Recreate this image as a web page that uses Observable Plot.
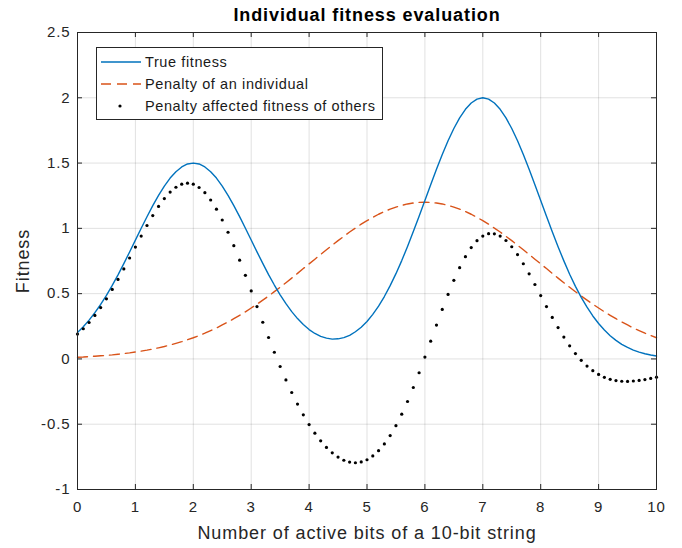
<!DOCTYPE html>
<html><head><meta charset="utf-8">
<script src="https://cdn.jsdelivr.net/npm/d3@7"></script>
<script src="https://cdn.jsdelivr.net/npm/@observablehq/plot@0.6"></script>
<style>
body{margin:0;background:#fff}
#wrap{position:relative;width:682px;height:548px;font-family:"Liberation Sans",Arial,sans-serif}
#legend{position:absolute;left:96px;top:47px;width:287px;height:73px;border:1px solid #262626;background:#fff;box-sizing:border-box;font-size:14.5px;letter-spacing:0.6px;color:#1a1a1a}
#legend .row{position:absolute;left:0;height:20px;display:flex;align-items:center;white-space:nowrap}
#legend svg{width:48px;height:20px;display:block}
</style>
</head><body><div id="wrap"></div>
<script>
const titleText = "Individual fitness evaluation";
const xLabel = "Number of active bits of a 10-bit string";
const yLabel = "Fitness";
const seriesNames = ["True fitness", "Penalty of an individual", "Penalty affected fitness of others"];
const seriesColors = ["#0072BD", "#D95319", "#000000"];
const xTicks = [0, 1, 2, 3, 4, 5, 6, 7, 8, 9, 10];
const yTicks = [-1, -0.5, 0, 0.5, 1, 1.5, 2, 2.5];

const xs = [0,0.1,0.2,0.3,0.4,0.5,0.6,0.7,0.8,0.9,1,1.1,1.2,1.3,1.4,1.5,1.6,1.7,1.8,1.9,2,2.1,2.2,2.3,2.4,2.5,2.6,2.7,2.8,2.9,3,3.1,3.2,3.3,3.4,3.5,3.6,3.7,3.8,3.9,4,4.1,4.2,4.3,4.4,4.5,4.6,4.7,4.8,4.9,5,5.1,5.2,5.3,5.4,5.5,5.6,5.7,5.8,5.9,6,6.1,6.2,6.3,6.4,6.5,6.6,6.7,6.8,6.9,7,7.1,7.2,7.3,7.4,7.5,7.6,7.7,7.8,7.9,8,8.1,8.2,8.3,8.4,8.5,8.6,8.7,8.8,8.9,9,9.1,9.2,9.3,9.4,9.5,9.6,9.7,9.8,9.9,10];

const trueFitness = [0.203,0.247,0.297,0.354,0.417,0.487,0.563,0.644,0.730,0.819,0.910,1.001,1.089,1.174,1.253,1.324,1.385,1.434,1.470,1.493,1.500,1.493,1.470,1.434,1.385,1.324,1.253,1.174,1.090,1.001,0.911,0.820,0.732,0.646,0.566,0.491,0.423,0.362,0.309,0.263,0.225,0.195,0.173,0.159,0.152,0.154,0.163,0.181,0.208,0.243,0.287,0.341,0.405,0.478,0.561,0.653,0.753,0.861,0.975,1.093,1.214,1.334,1.453,1.566,1.671,1.765,1.846,1.912,1.960,1.990,2.000,1.990,1.960,1.912,1.846,1.765,1.671,1.565,1.452,1.334,1.213,1.092,0.974,0.859,0.751,0.649,0.556,0.472,0.396,0.329,0.271,0.221,0.178,0.142,0.112,0.088,0.068,0.052,0.040,0.030,0.022];

const penalty = [0.013,0.015,0.018,0.021,0.024,0.027,0.031,0.036,0.041,0.046,0.053,0.060,0.067,0.076,0.085,0.095,0.107,0.119,0.132,0.147,0.162,0.179,0.197,0.217,0.237,0.260,0.283,0.308,0.334,0.361,0.390,0.419,0.450,0.482,0.515,0.549,0.584,0.619,0.655,0.692,0.728,0.764,0.800,0.836,0.871,0.906,0.939,0.972,1.002,1.032,1.059,1.084,1.108,1.129,1.147,1.163,1.176,1.187,1.194,1.199,1.200,1.199,1.194,1.187,1.176,1.163,1.147,1.129,1.108,1.084,1.059,1.032,1.002,0.972,0.939,0.906,0.871,0.836,0.800,0.764,0.728,0.692,0.655,0.619,0.584,0.549,0.515,0.482,0.450,0.419,0.390,0.361,0.334,0.308,0.283,0.260,0.237,0.217,0.197,0.179,0.162];

const affected = [0.190,0.231,0.279,0.333,0.393,0.460,0.532,0.609,0.689,0.773,0.857,0.941,1.022,1.098,1.168,1.228,1.278,1.315,1.338,1.346,1.338,1.313,1.273,1.217,1.147,1.064,0.970,0.867,0.756,0.640,0.521,0.401,0.281,0.164,0.051,-0.058,-0.161,-0.257,-0.346,-0.428,-0.503,-0.569,-0.627,-0.678,-0.719,-0.752,-0.776,-0.790,-0.795,-0.789,-0.772,-0.743,-0.703,-0.651,-0.587,-0.511,-0.423,-0.326,-0.219,-0.106,0.014,0.136,0.259,0.379,0.494,0.602,0.699,0.783,0.853,0.906,0.941,0.959,0.958,0.941,0.907,0.859,0.799,0.729,0.652,0.570,0.485,0.401,0.318,0.240,0.167,0.100,0.041,-0.011,-0.055,-0.090,-0.119,-0.141,-0.156,-0.166,-0.171,-0.172,-0.169,-0.165,-0.158,-0.149,-0.140];

const rows = xs.map((x, i) => ({x, t: trueFitness[i], p: penalty[i], a: affected[i]}));

const W = 682, H = 548;
const mL = 77, mR = 26, mT = 32, mB = 59;
const plotH = H - mT - mB, plotW = W - mL - mR;
const fmt = d => String(d);

const chart = Plot.plot({
  width: W, height: H,
  marginLeft: mL, marginRight: mR, marginTop: mT, marginBottom: mB,
  style: {fontFamily: '"Liberation Sans", Arial, sans-serif', fontSize: "15px", color: "#262626", background: "#fff", letterSpacing: "0.9px"},
  x: {domain: [0, 10], ticks: xTicks, tickFormat: fmt},
  y: {domain: [-1, 2.5], ticks: yTicks, tickFormat: fmt},
  marks: [
    Plot.gridX(xTicks, {stroke: "#000", strokeOpacity: 0.12, strokeWidth: 1}),
    Plot.gridY(yTicks, {stroke: "#000", strokeOpacity: 0.12, strokeWidth: 1}),
    Plot.axisX(xTicks, {tickSize: 0, tickPadding: 12, label: null, tickFormat: fmt, fontSize: 15, fill: "#262626"}),
    Plot.axisY(yTicks, {tickSize: 0, tickPadding: 7, label: null, tickFormat: fmt, fontSize: 15, fill: "#262626"}),
    Plot.tickX(xTicks, {x: d => d, insetTop: plotH - 5, stroke: "#262626"}),
    Plot.tickX(xTicks, {x: d => d, insetBottom: plotH - 5, stroke: "#262626"}),
    Plot.tickY(yTicks, {y: d => d, insetRight: plotW - 5, stroke: "#262626"}),
    Plot.tickY(yTicks, {y: d => d, insetLeft: plotW - 5, stroke: "#262626"}),
    Plot.line(rows, {x: "x", y: "p", stroke: seriesColors[1], strokeWidth: 1.4, strokeDasharray: "10,6"}),
    Plot.line(rows, {x: "x", y: "t", stroke: seriesColors[0], strokeWidth: 1.4}),
    Plot.dot(rows, {x: "x", y: "a", r: 1.6, fill: seriesColors[2], stroke: null}),
    Plot.frame({stroke: "#262626", strokeWidth: 1}),
    Plot.text([titleText], {text: d => d, frameAnchor: "top", lineAnchor: "top", dy: -24, fontWeight: "bold", fontSize: 18, fill: "#000"}),
    Plot.text([xLabel], {text: d => d, frameAnchor: "bottom", lineAnchor: "bottom", dy: 49, fontSize: 18, fill: "#262626"}),
    Plot.text([yLabel], {text: d => d, frameAnchor: "left", textAnchor: "middle", dx: -54, rotate: -90, fontSize: 18, fill: "#262626"})
  ]
});
const wrap = document.getElementById("wrap");
wrap.appendChild(chart);

const legend = document.createElement("div");
legend.id = "legend";
const swatches = [
  `<line x1="4" x2="44" y1="10" y2="10" stroke="${seriesColors[0]}" stroke-width="1.4"/>`,
  `<line x1="4" x2="44" y1="10" y2="10" stroke="${seriesColors[1]}" stroke-width="1.4" stroke-dasharray="10,6"/>`,
  `<circle cx="23" cy="10" r="1.6" fill="${seriesColors[2]}"/>`
];
seriesNames.forEach((name, i) => {
  const row = document.createElement("div");
  row.className = "row";
  row.style.top = (4 + i * 22) + "px";
  row.innerHTML = `<svg viewBox="0 0 48 20">${swatches[i]}</svg><span>${name}</span>`;
  legend.appendChild(row);
});
wrap.appendChild(legend);
</script>
</body></html>
